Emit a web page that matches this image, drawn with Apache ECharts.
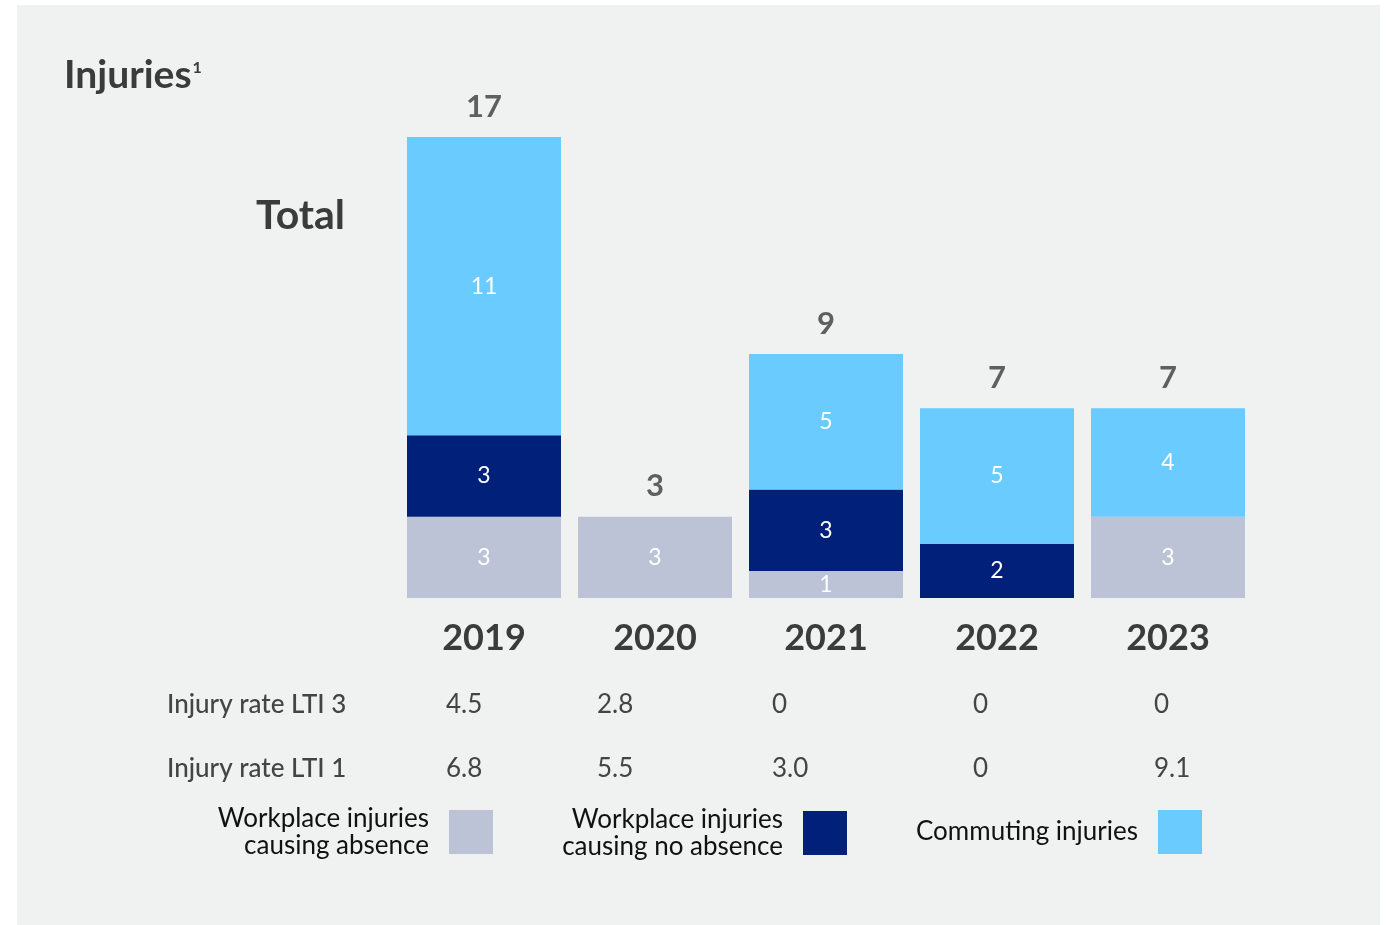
<!DOCTYPE html>
<html>
<head>
<meta charset="utf-8">
<script src="https://cdn.jsdelivr.net/npm/echarts@6/dist/echarts.min.js"></script>
<style>
  html, body { margin: 0; padding: 0; background: #ffffff; }
  #chart { width: 1394px; height: 925px; }
</style>
</head>
<body>
<div id="chart"></div>
<script>
// Injuries per year, split by type
const years = ['2019', '2020', '2021', '2022', '2023'];
const absence = [3, 3, 1, 0, 3];        // workplace injuries causing absence
const noAbsence = [3, 0, 3, 2, 0];      // workplace injuries causing no absence
const commuting = [11, 0, 5, 5, 4];     // commuting injuries
const rateLTI3 = ['4.5', '2.8', '0', '0', '0'];
const rateLTI1 = ['6.8', '5.5', '3.0', '0', '9.1'];
const rateRowNames = ['Injury rate LTI 3', 'Injury rate LTI 1'];
const seriesNames = ['Workplace injuries\ncausing absence', 'Workplace injuries\ncausing no absence', 'Commuting injuries'];
const totals = years.map((_, i) => absence[i] + noAbsence[i] + commuting[i]);

// table layout
const rateColumnX = [446, 597, 772, 973, 1154];
const rateRowY = [704, 768];

const FONT = 'Lato, "Open Sans", sans-serif';
const DARK = '#3b3b3b';
const COLORS = ['#bcc3d7', '#002079', '#69cbff'];

const segLabel = {
  show: true,
  position: 'inside',
  color: '#ffffff',
  fontSize: 23,
  fontFamily: FONT,
  formatter: p => (p.value ? String(p.value) : '')
};

function barSeries(name, data, color) {
  return {
    name, type: 'bar', stack: 'total', data,
    barWidth: 154,
    itemStyle: { color },
    label: segLabel,
    emphasis: { disabled: true }
  };
}

const tableText = [];
[rateLTI3, rateLTI1].forEach((row, r) => {
  tableText.push({
    type: 'text', left: 167, top: rateRowY[r] - 12,
    style: { text: rateRowNames[r], fontSize: 26, fontFamily: FONT, fontWeight: 500, fill: '#444' }
  });
  row.forEach((v, i) => {
    tableText.push({
      type: 'text', left: rateColumnX[i], top: rateRowY[r] - 12,
      style: { text: v, fontSize: 26, fontFamily: FONT, fill: '#444' }
    });
  });
});

function legendAt(name, color, right, top) {
  return {
    data: [{ name, icon: 'rect', itemStyle: { color } }],
    right, top,
    padding: 0,
    align: 'right',
    itemWidth: 44, itemHeight: 44,
    selectedMode: false,
    textStyle: { fontSize: 26, lineHeight: 27, fontFamily: FONT, color: '#111', padding: [0, 15, 0, 0] }
  };
}

const chart = echarts.init(document.getElementById('chart'), null, { renderer: 'canvas' });
chart.setOption({
  animation: false,
  backgroundColor: '#ffffff',
  grid: { left: 398.5, right: 140.5, top: 110, bottom: 327 },
  xAxis: {
    type: 'category', data: years,
    axisLine: { show: false }, axisTick: { show: false },
    axisLabel: { fontSize: 36, fontWeight: 'bold', fontFamily: FONT, color: DARK, margin: 22 }
  },
  yAxis: { type: 'value', min: 0, max: 18, show: false, splitLine: { show: false } },
  legend: [
    legendAt(seriesNames[0], COLORS[0], 901, 805),
    legendAt(seriesNames[1], COLORS[1], 547, 806),
    legendAt(seriesNames[2], COLORS[2], 192, 810)
  ],
  graphic: [
    { type: 'rect', shape: { x: 17, y: 5, width: 1363, height: 920 }, style: { fill: '#f0f1f1' }, z: -10, silent: true },
    {
      type: 'text', left: 64, top: 56,
      style: {
        text: '{t|Injuries}{s|1}',
        rich: {
          t: { fontSize: 39, fontWeight: 'bold', fontFamily: FONT, fill: DARK },
          s: { fontSize: 16, fontWeight: 'bold', fontFamily: FONT, fill: DARK, verticalAlign: 'top', padding: [4, 0, 0, 1] }
        }
      }
    },
    {
      type: 'text', left: 256, top: 195,
      style: { text: 'Total', fontSize: 41, fontWeight: 'bold', fontFamily: FONT, fill: DARK }
    },
    ...tableText
  ],
  series: [
    barSeries(seriesNames[0], absence, COLORS[0]),
    barSeries(seriesNames[1], noAbsence, COLORS[1]),
    barSeries(seriesNames[2], commuting, COLORS[2]),
    {
      name: 'Total', type: 'scatter', data: totals, symbolSize: 0,
      label: { show: true, position: 'top', distance: 15, fontSize: 31, fontWeight: 'bold', fontFamily: FONT, color: DARK },
      emphasis: { disabled: true }, silent: true
    }
  ]
});
</script>
</body>
</html>
